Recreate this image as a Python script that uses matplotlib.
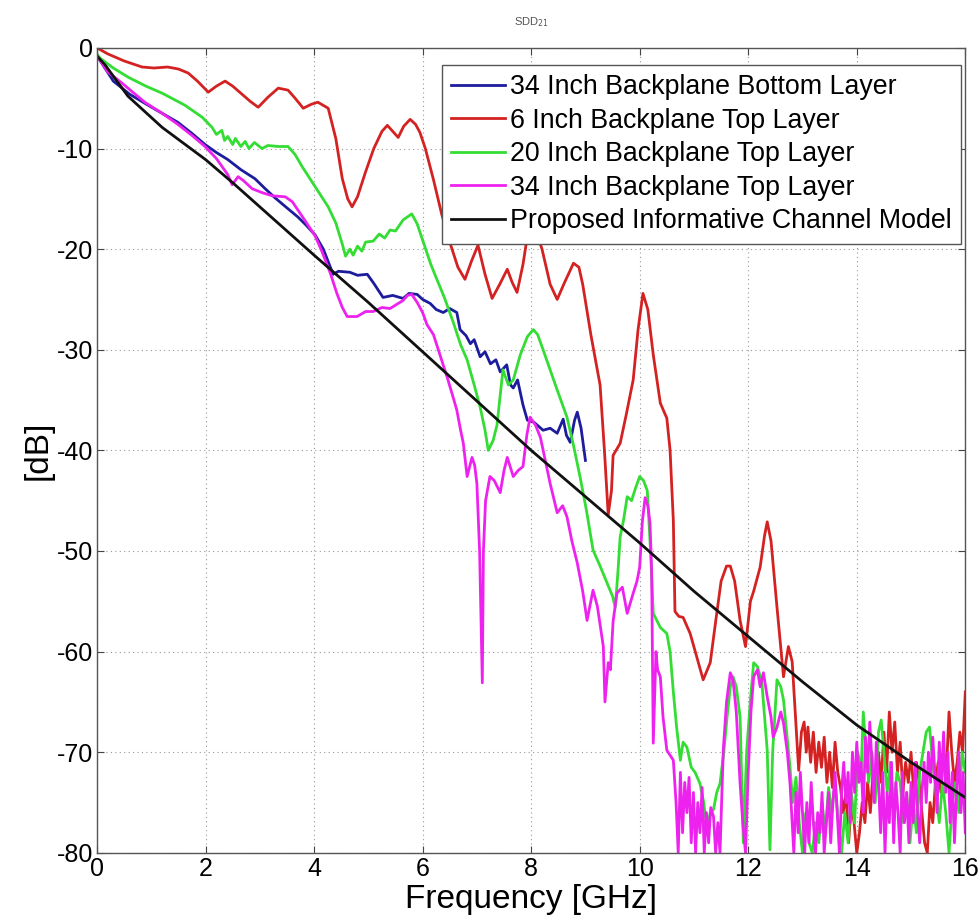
import matplotlib
matplotlib.use("Agg")
import matplotlib.pyplot as plt

plt.rcParams["font.family"] = ["Liberation Sans", "DejaVu Sans"]
plt.rcParams["axes.unicode_minus"] = False

# --- SDD21 insertion loss traces (frequency in GHz, magnitude in dB) ---
f_blue = [0, 0.05, 0.3, 0.6, 0.88, 1.2, 1.49, 1.75, 1.99, 2.2, 2.41, 2.65, 2.91, 3.1, 3.28,
          3.5, 3.7, 3.85, 4.02, 4.17, 4.3, 4.35, 4.45, 4.66, 4.8, 4.98, 5.1, 5.27, 5.45, 5.64,
          5.75, 5.9, 6.0, 6.14, 6.25, 6.38, 6.5, 6.63, 6.69, 6.8, 6.88, 6.95, 7.06, 7.15, 7.25,
          7.35, 7.43, 7.55, 7.62, 7.67, 7.75, 7.85, 7.93, 8.05, 8.22, 8.35, 8.48, 8.59, 8.65,
          8.72, 8.8, 8.85, 8.92, 9.0]
db_blue = [-0.8, -1.2, -3.3, -4.6, -5.5, -6.5, -7.4, -8.5, -9.6, -10.4, -11.1, -12.1, -13.0,
           -14.0, -14.9, -15.9, -16.8, -17.6, -18.6, -20.0, -21.8, -22.5, -22.2, -22.3, -22.6,
           -22.5, -23.4, -24.8, -24.6, -24.9, -24.4, -24.5, -25.0, -25.4, -26.0, -26.3, -25.9,
           -26.3, -28.0, -28.6, -29.4, -29.0, -30.7, -30.2, -31.4, -31.0, -32.2, -31.5, -33.5,
           -33.8, -33.0, -35.5, -37.0, -37.2, -38.0, -37.8, -38.3, -36.9, -38.5, -39.2, -37.0,
           -36.2, -37.8, -41.0]

f_red = [0, 0.2, 0.5, 0.83, 1.05, 1.3, 1.5, 1.68, 1.85, 2.05, 2.2, 2.36, 2.5, 2.67, 2.82, 2.97,
         3.15, 3.34, 3.52, 3.65, 3.8, 3.95, 4.07, 4.26, 4.4, 4.52, 4.62, 4.7, 4.8, 4.95, 5.1,
         5.25, 5.35, 5.45, 5.55, 5.65, 5.77, 5.87, 5.95, 6.05, 6.2, 6.35, 6.5, 6.65, 6.78, 6.9,
         7.02, 7.15, 7.28, 7.42, 7.56, 7.65, 7.74, 7.85, 7.95, 8.05, 8.2, 8.35, 8.48, 8.6, 8.78,
         8.88, 8.95, 9.1, 9.27, 9.35, 9.42, 9.48, 9.51, 9.64, 9.75, 9.88, 9.97, 10.06, 10.15,
         10.25, 10.38, 10.5, 10.56, 10.62, 10.65, 10.72, 10.8, 10.93, 11.05, 11.17, 11.3, 11.4,
         11.5, 11.6, 11.67, 11.75, 11.85, 11.95, 12.04, 12.1, 12.22, 12.3, 12.35, 12.42, 12.53,
         12.65, 12.74, 12.81, 12.93,
         12.98, 13.03, 13.07, 13.1, 13.15, 13.2, 13.25, 13.3, 13.35, 13.4, 13.45, 13.5, 13.55,
         13.6, 13.65, 13.7, 13.75, 13.8, 13.85, 13.9, 13.95, 14.0, 14.05, 14.1, 14.15, 14.2,
         14.25, 14.3, 14.35, 14.4, 14.45, 14.5, 14.55, 14.6, 14.65, 14.7, 14.75, 14.8, 14.85,
         14.9, 14.95, 15.0, 15.05, 15.1, 15.15, 15.2, 15.25, 15.3, 15.35, 15.4, 15.45, 15.5,
         15.55, 15.6, 15.65, 15.7, 15.75, 15.8, 15.85, 15.9, 15.95, 16.0]
db_red = [0.0, -0.6, -1.3, -1.9, -2.0, -1.9, -2.1, -2.5, -3.3, -4.4, -3.8, -3.3, -3.8, -4.6,
          -5.3, -5.9, -4.9, -4.0, -4.2, -5.0, -6.0, -5.6, -5.4, -6.0, -9.0, -13.0, -15.0, -15.8,
          -14.8, -12.3, -10.0, -8.3, -7.7, -8.3, -8.9, -7.8, -7.1, -7.6, -8.4, -10.0, -13.1,
          -16.5, -19.3, -21.8, -23.0, -21.2, -19.6, -22.5, -24.9, -23.5, -22.0, -23.3, -24.3,
          -21.5, -18.0, -17.5, -20.0, -23.5, -25.0, -23.5, -21.4, -21.8, -23.5, -28.5, -33.5,
          -40.0, -46.4, -44.0, -40.5, -39.3, -36.5, -33.0, -28.0, -24.4, -26.0, -30.5, -35.3,
          -36.8, -40.0, -47.0, -56.0, -56.5, -56.6, -58.2, -60.5, -62.8, -61.1, -57.0, -53.0,
          -51.5, -51.5, -53.0, -56.9, -59.5, -55.0, -54.0, -51.6, -48.5, -47.1, -49.0, -55.6,
          -62.5, -59.5, -61.0, -71.8,
          -68, -67, -70, -67.5, -71, -68, -72, -69, -71.5, -68.5, -73, -70, -73.5, -69, -72,
          -73.5, -76, -74, -79, -75, -77, -80, -78, -75, -77, -73, -76, -72, -74, -70, -73, -68,
          -72, -66, -70, -67, -72, -69, -74, -71, -73, -70, -74, -71, -73, -76, -79, -80, -75,
          -77, -73, -71, -74, -70, -72, -66, -70, -73, -71, -68, -70, -64]

f_green = [0, 0.05, 0.3, 0.57, 0.9, 1.2, 1.62, 1.94, 2.12, 2.2, 2.3, 2.35, 2.41, 2.5, 2.55,
           2.65, 2.73, 2.8, 2.9, 3.04, 3.15, 3.34, 3.52, 3.65, 3.78, 4.02, 4.26, 4.4, 4.52,
           4.58, 4.66, 4.72, 4.8, 4.88, 4.95, 5.09, 5.2, 5.3, 5.4, 5.5, 5.64, 5.8, 5.9, 6.0,
           6.15, 6.27, 6.4, 6.56, 6.7, 6.82, 6.95, 7.06, 7.15, 7.21, 7.3, 7.37, 7.48, 7.58,
           7.67, 7.8, 7.93, 8.04, 8.12, 8.22, 8.35, 8.48, 8.66, 8.78, 8.9, 9.02, 9.14, 9.27,
           9.4, 9.5, 9.55, 9.6, 9.64, 9.7, 9.77, 9.85, 9.92, 10.0, 10.07, 10.14, 10.2, 10.25,
           10.38, 10.5, 10.56, 10.62, 10.68, 10.75, 10.8, 10.87, 10.95, 11.02, 11.11, 11.18,
           11.24, 11.3, 11.36, 11.42, 11.48, 11.55, 11.61, 11.67, 11.72, 11.78, 11.85, 11.91,
           11.97, 12.04, 12.1, 12.17, 12.25, 12.35, 12.4, 12.45, 12.53, 12.6, 12.65, 12.77,
           12.82, 12.88, 12.94, 13.0, 13.06, 13.12, 13.18, 13.24, 13.3, 13.36, 13.42, 13.48,
           13.54, 13.6, 13.66, 13.72, 13.78, 13.84, 13.9, 13.96, 14.02, 14.08, 14.12, 14.16,
           14.22, 14.28, 14.34, 14.4, 14.45, 14.5, 14.56, 14.62, 14.68, 14.74, 14.8, 14.86,
           14.92, 14.98, 15.04, 15.1, 15.16, 15.22, 15.28, 15.34, 15.4, 15.46, 15.52, 15.58,
           15.64, 15.7, 15.76, 15.82, 15.88, 15.94, 16.0]
db_green = [-0.6, -1.0, -2.0, -2.9, -3.8, -4.5, -5.7, -6.9, -7.9, -8.6, -8.2, -9.2, -8.8,
            -9.6, -9.0, -9.8, -9.3, -10.0, -9.4, -10.0, -9.7, -9.8, -9.8, -10.6, -11.8, -13.8,
            -15.8, -17.4, -19.5, -20.7, -20.0, -20.6, -19.7, -20.2, -19.3, -19.2, -18.5, -18.9,
            -18.1, -18.2, -17.1, -16.5, -17.5, -19.1, -21.5, -23.1, -24.8, -27.2, -29.5, -31.0,
            -33.5, -35.7, -38.0, -40.0, -39.0, -37.5, -32.0, -33.5, -33.0, -30.5, -28.7, -28.0,
            -28.5, -30.0, -32.0, -34.0, -36.7, -39.5, -42.6, -46.0, -49.9, -51.5, -53.2, -54.5,
            -55.6, -52.0, -48.6, -47.0, -44.6, -45.0, -43.8, -42.6, -43.0, -44.0, -50.0, -56.2,
            -57.6, -58.2, -60.0, -64.0, -67.5, -70.8, -69.0, -69.5, -71.5, -72.0, -73.1, -75.0,
            -77.7, -76.0, -75.7, -74.0, -73.1, -70.0, -66.5, -63.5, -62.5, -63.5, -66.5, -79.0,
            -70.0, -64.8, -61.1, -61.5, -63.0, -69.8, -79.7, -70.0, -62.8, -63.5, -64.8, -71.5,
            -75, -72.5, -77, -80, -76, -79, -80, -77, -79, -75, -78, -73.5, -76, -73, -77, -80,
            -76, -79, -74, -77, -70, -72, -66, -69, -73, -70, -75, -68, -66.8, -70, -74, -71,
            -76, -72, -73, -77, -74, -79, -75, -78, -72, -70, -68, -67.5, -71, -74, -77, -73,
            -76, -80, -75, -73, -76, -70, -72]

f_magenta = [0, 0.05, 0.2, 0.46, 0.88, 1.2, 1.49, 1.75, 1.99, 2.2, 2.41, 2.49, 2.6, 2.7, 2.86,
             3.05, 3.23, 3.47, 3.6, 3.7, 3.85, 4.02, 4.15, 4.3, 4.42, 4.52, 4.61, 4.79, 4.95,
             5.09, 5.25, 5.4, 5.55, 5.64, 5.72, 5.8, 5.9, 6.0, 6.08, 6.2, 6.32, 6.45, 6.55,
             6.63, 6.7, 6.75, 6.82, 6.91, 6.96, 7.0, 7.05, 7.1, 7.12, 7.16, 7.24, 7.32, 7.43,
             7.5, 7.56, 7.67, 7.76, 7.85, 7.92, 7.98, 8.08, 8.17, 8.35, 8.48, 8.58, 8.66, 8.75,
             8.85, 8.95, 9.03, 9.14, 9.22, 9.33, 9.36, 9.42, 9.46, 9.51, 9.58, 9.68, 9.77, 9.88,
             9.95, 10.0, 10.05, 10.1, 10.15, 10.19, 10.22, 10.25, 10.3, 10.33, 10.38, 10.43,
             10.5, 10.62, 10.67, 10.71,
             10.75, 10.79, 10.83, 10.87, 10.91, 10.95, 10.99, 11.03, 11.07, 11.11, 11.15, 11.19,
             11.23, 11.27, 11.31, 11.36, 11.4, 11.44, 11.48, 11.54, 11.6, 11.67, 11.72, 11.78,
             11.85, 11.9, 11.95, 12.0, 12.05, 12.1, 12.17, 12.22, 12.28, 12.35, 12.42, 12.46,
             12.53, 12.6, 12.65, 12.72, 12.77,
             12.8, 12.84, 12.88, 12.92, 12.96, 13.0, 13.04, 13.08, 13.12, 13.16, 13.2, 13.24,
             13.28, 13.32, 13.36, 13.4, 13.44, 13.48, 13.52, 13.56, 13.6, 13.64, 13.68, 13.72,
             13.76, 13.8, 13.84, 13.88, 13.92, 13.96, 14.0, 14.04, 14.08, 14.12, 14.16, 14.2,
             14.24, 14.28, 14.32, 14.36, 14.4, 14.44, 14.48, 14.52, 14.56, 14.6, 14.64, 14.68,
             14.72, 14.76, 14.8, 14.84, 14.88, 14.92, 14.96, 15.0, 15.04, 15.08, 15.12, 15.16,
             15.2, 15.24, 15.28, 15.32, 15.36, 15.4, 15.44, 15.48, 15.52, 15.56, 15.6, 15.64,
             15.68, 15.72, 15.76, 15.8, 15.84, 15.88, 15.92, 15.96, 16.0]
db_magenta = [-0.8, -1.2, -2.4, -3.5, -5.4, -6.5, -7.6, -8.7, -9.8, -11.0, -12.6, -13.6, -12.8,
              -13.2, -14.0, -14.4, -14.7, -14.8, -15.3, -16.1, -17.3, -18.7, -20.3, -22.4,
              -24.4, -25.8, -26.7, -26.7, -26.2, -26.2, -25.8, -25.9, -25.4, -25.1, -24.6,
              -24.5, -25.3, -26.3, -27.5, -28.5, -30.5, -32.7, -34.5, -36.0, -38.0, -39.3,
              -42.6, -40.7, -41.5, -43.3, -50.0, -63.1, -50.0, -45.0, -42.6, -43.0, -44.2,
              -42.0, -40.7, -42.6, -42.0, -41.6, -38.5, -36.7, -37.5, -38.7, -43.3, -46.2,
              -45.5, -46.6, -49.0, -51.2, -54.0, -56.9, -53.9, -55.5, -59.5, -65.0, -61.1,
              -61.8, -57.0, -54.2, -53.6, -56.2, -54.2, -53.0, -51.6, -47.0, -44.7, -45.5,
              -47.2, -52.0, -69.1, -60.0, -61.8, -62.5, -66.5, -69.8, -70.8, -75.0, -80.0,
              -72, -78, -73, -76, -72.5, -79, -74, -80, -75, -78, -73.5, -80, -76, -79, -75.5,
              -76.4, -80, -77, -80, -69.8, -65, -62.1, -62.8, -66, -73.1, -77, -80, -72, -66,
              -62.5, -61.8, -63.5, -62.1, -64.5, -66.5, -68.5, -67.5, -66, -67.1, -70, -73.1,
              -76, -80, -74, -78, -72, -76, -80, -75, -79, -73, -77, -80, -76, -78, -74, -80,
              -77, -74, -79, -75, -72, -76, -80, -74, -71, -75, -72, -77, -70, -74, -69, -73,
              -71, -76, -68.5, -72, -67, -71, -75, -69, -73, -78, -72, -80, -74, -77, -71, -79,
              -73, -76, -80, -72, -77, -74, -79, -73, -77, -71, -76, -79, -74, -71, -75, -70,
              -73, -68.5, -72, -76, -69, -73, -68, -74, -70, -77, -72, -79, -74, -70, -76, -72,
              -78]

f_model = [0, 0.15, 0.57, 1.2, 2.0, 2.5, 3.0, 3.5, 4.0, 5.0, 6.0, 7.0, 8.0, 9.0, 10.0, 11.0,
           12.0, 13.0, 14.0, 15.0, 16.0]
db_model = [-0.8, -1.7, -4.8, -7.9, -11.1, -13.4, -15.8, -18.2, -20.6, -25.3, -30.2, -35.1,
            -40.0, -44.6, -49.2, -54.0, -58.5, -63.0, -67.3, -71.0, -74.5]

labels = ["34 Inch Backplane Bottom Layer", "6 Inch Backplane Top Layer",
          "20 Inch Backplane Top Layer", "34 Inch Backplane Top Layer",
          "Proposed Informative Channel Model"]
colors = ["#1c1c9c", "#d42222", "#33dd33", "#ee22ee", "#111111"]

fig = plt.figure(figsize=(9.8, 9.21), dpi=100)
ax = fig.add_axes([0.099, 0.074, 0.886, 0.874])

series = [(f_blue, db_blue), (f_red, db_red), (f_green, db_green),
          (f_magenta, db_magenta), (f_model, db_model)]
for (f, db), lab, c in zip(series, labels, colors):
    ax.plot(f, db, color=c, lw=2.0, label=lab)

ax.set_xlim(0, 16)
ax.set_ylim(-80, 0)
ax.set_xticks(range(0, 17, 2))
ax.set_yticks(range(-80, 1, 10))
ax.grid(True, ls=(0, (1, 3)), color="#999999", lw=0.8)
ax.tick_params(direction="in", top=True, right=True, labelsize=18, length=5,
               color="#444444", pad=3)
for s in ax.spines.values():
    s.set_color("#555555")
    s.set_linewidth(1.0)

ax.set_xlabel("Frequency [GHz]", fontsize=24, labelpad=2)
ax.set_ylabel("[dB]", fontsize=24, labelpad=2)
ax.set_title("SDD$_{21}$", fontsize=8, color="#555555", pad=16)

leg = ax.legend(loc="upper right", bbox_to_anchor=(0.995, 0.979), fontsize=19.3,
                frameon=True, fancybox=False, edgecolor="#555555", framealpha=1,
                handlelength=2.0, handletextpad=0.2, borderpad=0.35, labelspacing=0.28,
                borderaxespad=0)
leg.get_frame().set_linewidth(1.0)

fig.savefig("out.png", dpi=100)
